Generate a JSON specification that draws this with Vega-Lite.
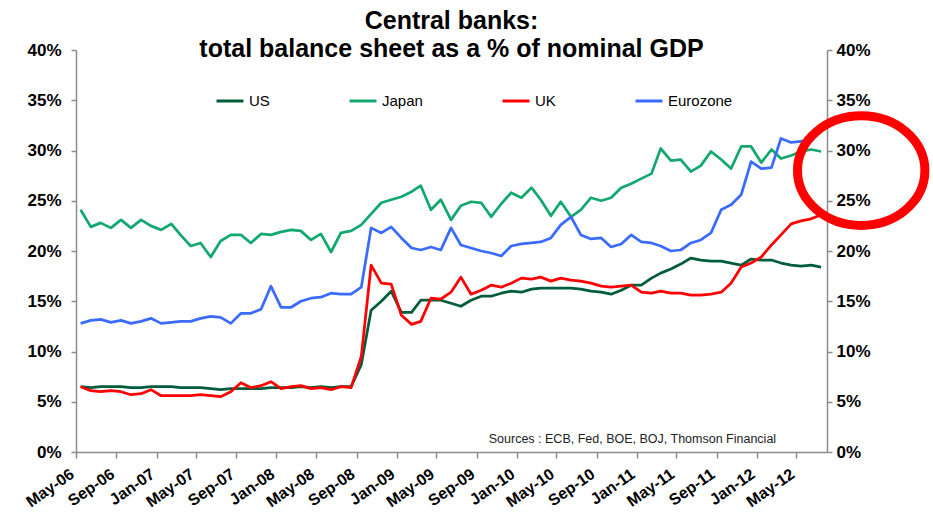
{
  "$schema": "https://vega.github.io/schema/vega-lite/v6.json",
  "width": 751,
  "height": 402,
  "autosize": {"type": "none"},
  "padding": {"left": 76, "top": 50, "right": 106, "bottom": 74},
  "background": "white",
  "config": {"view": {"stroke": null}, "font": "Liberation Sans"},
  "title": {
    "text": ["Central banks:", "total balance sheet as a % of nominal GDP"],
    "fontSize": 25,
    "fontWeight": "bold",
    "font": "Liberation Sans",
    "color": "black",
    "anchor": "middle",
    "lineHeight": 28,
    "offset": -21
  },
  "datasets": {
    "banks": [
      {"d":"2006-05-15","c":"US","v":6.5},{"d":"2006-06-15","c":"US","v":6.4},{"d":"2006-07-15","c":"US","v":6.5},{"d":"2006-08-15","c":"US","v":6.5},{"d":"2006-09-15","c":"US","v":6.5},{"d":"2006-10-15","c":"US","v":6.4},{"d":"2006-11-15","c":"US","v":6.4},{"d":"2006-12-15","c":"US","v":6.5},
      {"d":"2007-01-15","c":"US","v":6.5},{"d":"2007-02-15","c":"US","v":6.5},{"d":"2007-03-15","c":"US","v":6.4},{"d":"2007-04-15","c":"US","v":6.4},{"d":"2007-05-15","c":"US","v":6.4},{"d":"2007-06-15","c":"US","v":6.3},{"d":"2007-07-15","c":"US","v":6.2},{"d":"2007-08-15","c":"US","v":6.3},{"d":"2007-09-15","c":"US","v":6.3},{"d":"2007-10-15","c":"US","v":6.3},{"d":"2007-11-15","c":"US","v":6.3},{"d":"2007-12-15","c":"US","v":6.4},
      {"d":"2008-01-15","c":"US","v":6.4},{"d":"2008-02-15","c":"US","v":6.4},{"d":"2008-03-15","c":"US","v":6.5},{"d":"2008-04-15","c":"US","v":6.4},{"d":"2008-05-15","c":"US","v":6.5},{"d":"2008-06-15","c":"US","v":6.4},{"d":"2008-07-15","c":"US","v":6.5},{"d":"2008-08-15","c":"US","v":6.5},{"d":"2008-09-15","c":"US","v":8.7},{"d":"2008-10-15","c":"US","v":14.1},{"d":"2008-11-15","c":"US","v":15.0},{"d":"2008-12-15","c":"US","v":16.0},
      {"d":"2009-01-15","c":"US","v":13.9},{"d":"2009-02-15","c":"US","v":13.9},{"d":"2009-03-15","c":"US","v":15.1},{"d":"2009-04-15","c":"US","v":15.1},{"d":"2009-05-15","c":"US","v":15.1},{"d":"2009-06-15","c":"US","v":14.8},{"d":"2009-07-15","c":"US","v":14.5},{"d":"2009-08-15","c":"US","v":15.1},{"d":"2009-09-15","c":"US","v":15.5},{"d":"2009-10-15","c":"US","v":15.5},{"d":"2009-11-15","c":"US","v":15.8},{"d":"2009-12-15","c":"US","v":16.0},
      {"d":"2010-01-15","c":"US","v":15.9},{"d":"2010-02-15","c":"US","v":16.2},{"d":"2010-03-15","c":"US","v":16.3},{"d":"2010-04-15","c":"US","v":16.3},{"d":"2010-05-15","c":"US","v":16.3},{"d":"2010-06-15","c":"US","v":16.3},{"d":"2010-07-15","c":"US","v":16.2},{"d":"2010-08-15","c":"US","v":16.0},{"d":"2010-09-15","c":"US","v":15.9},{"d":"2010-10-15","c":"US","v":15.7},{"d":"2010-11-15","c":"US","v":16.1},{"d":"2010-12-15","c":"US","v":16.6},
      {"d":"2011-01-15","c":"US","v":16.6},{"d":"2011-02-15","c":"US","v":17.3},{"d":"2011-03-15","c":"US","v":17.8},{"d":"2011-04-15","c":"US","v":18.2},{"d":"2011-05-15","c":"US","v":18.7},{"d":"2011-06-15","c":"US","v":19.3},{"d":"2011-07-15","c":"US","v":19.1},{"d":"2011-08-15","c":"US","v":19.0},{"d":"2011-09-15","c":"US","v":19.0},{"d":"2011-10-15","c":"US","v":18.8},{"d":"2011-11-15","c":"US","v":18.6},{"d":"2011-12-15","c":"US","v":19.2},
      {"d":"2012-01-15","c":"US","v":19.1},{"d":"2012-02-15","c":"US","v":19.1},{"d":"2012-03-15","c":"US","v":18.8},{"d":"2012-04-15","c":"US","v":18.6},{"d":"2012-05-15","c":"US","v":18.5},{"d":"2012-06-15","c":"US","v":18.6},{"d":"2012-07-15","c":"US","v":18.4},

      {"d":"2006-05-15","c":"Japan","v":24.1},{"d":"2006-06-15","c":"Japan","v":22.4},{"d":"2006-07-15","c":"Japan","v":22.8},{"d":"2006-08-15","c":"Japan","v":22.3},{"d":"2006-09-15","c":"Japan","v":23.1},{"d":"2006-10-15","c":"Japan","v":22.3},{"d":"2006-11-15","c":"Japan","v":23.1},{"d":"2006-12-15","c":"Japan","v":22.5},
      {"d":"2007-01-15","c":"Japan","v":22.1},{"d":"2007-02-15","c":"Japan","v":22.7},{"d":"2007-03-15","c":"Japan","v":21.6},{"d":"2007-04-15","c":"Japan","v":20.5},{"d":"2007-05-15","c":"Japan","v":20.8},{"d":"2007-06-15","c":"Japan","v":19.4},{"d":"2007-07-15","c":"Japan","v":21.0},{"d":"2007-08-15","c":"Japan","v":21.6},{"d":"2007-09-15","c":"Japan","v":21.6},{"d":"2007-10-15","c":"Japan","v":20.8},{"d":"2007-11-15","c":"Japan","v":21.7},{"d":"2007-12-15","c":"Japan","v":21.6},
      {"d":"2008-01-15","c":"Japan","v":21.9},{"d":"2008-02-15","c":"Japan","v":22.1},{"d":"2008-03-15","c":"Japan","v":22.0},{"d":"2008-04-15","c":"Japan","v":21.1},{"d":"2008-05-15","c":"Japan","v":21.7},{"d":"2008-06-15","c":"Japan","v":19.9},{"d":"2008-07-15","c":"Japan","v":21.8},{"d":"2008-08-15","c":"Japan","v":22.0},{"d":"2008-09-15","c":"Japan","v":22.6},{"d":"2008-10-15","c":"Japan","v":23.7},{"d":"2008-11-15","c":"Japan","v":24.8},{"d":"2008-12-15","c":"Japan","v":25.1},
      {"d":"2009-01-15","c":"Japan","v":25.4},{"d":"2009-02-15","c":"Japan","v":25.9},{"d":"2009-03-15","c":"Japan","v":26.5},{"d":"2009-04-15","c":"Japan","v":24.1},{"d":"2009-05-15","c":"Japan","v":25.1},{"d":"2009-06-15","c":"Japan","v":23.1},{"d":"2009-07-15","c":"Japan","v":24.5},{"d":"2009-08-15","c":"Japan","v":24.9},{"d":"2009-09-15","c":"Japan","v":24.8},{"d":"2009-10-15","c":"Japan","v":23.4},{"d":"2009-11-15","c":"Japan","v":24.7},{"d":"2009-12-15","c":"Japan","v":25.8},
      {"d":"2010-01-15","c":"Japan","v":25.3},{"d":"2010-02-15","c":"Japan","v":26.3},{"d":"2010-03-15","c":"Japan","v":25.1},{"d":"2010-04-15","c":"Japan","v":23.5},{"d":"2010-05-15","c":"Japan","v":24.9},{"d":"2010-06-15","c":"Japan","v":23.4},{"d":"2010-07-15","c":"Japan","v":24.1},{"d":"2010-08-15","c":"Japan","v":25.3},{"d":"2010-09-15","c":"Japan","v":25.0},{"d":"2010-10-15","c":"Japan","v":25.3},{"d":"2010-11-15","c":"Japan","v":26.3},{"d":"2010-12-15","c":"Japan","v":26.7},
      {"d":"2011-01-15","c":"Japan","v":27.2},{"d":"2011-02-15","c":"Japan","v":27.7},{"d":"2011-03-15","c":"Japan","v":30.2},{"d":"2011-04-15","c":"Japan","v":29.0},{"d":"2011-05-15","c":"Japan","v":29.1},{"d":"2011-06-15","c":"Japan","v":27.9},{"d":"2011-07-15","c":"Japan","v":28.5},{"d":"2011-08-15","c":"Japan","v":29.9},{"d":"2011-09-15","c":"Japan","v":29.1},{"d":"2011-10-15","c":"Japan","v":28.2},{"d":"2011-11-15","c":"Japan","v":30.4},{"d":"2011-12-15","c":"Japan","v":30.4},
      {"d":"2012-01-15","c":"Japan","v":28.8},{"d":"2012-02-15","c":"Japan","v":30.1},{"d":"2012-03-15","c":"Japan","v":29.2},{"d":"2012-04-15","c":"Japan","v":29.5},{"d":"2012-05-15","c":"Japan","v":29.9},{"d":"2012-06-15","c":"Japan","v":30.1},{"d":"2012-07-15","c":"Japan","v":29.9},

      {"d":"2006-05-15","c":"UK","v":6.5},{"d":"2006-06-15","c":"UK","v":6.1},{"d":"2006-07-15","c":"UK","v":6.0},{"d":"2006-08-15","c":"UK","v":6.1},{"d":"2006-09-15","c":"UK","v":6.0},{"d":"2006-10-15","c":"UK","v":5.7},{"d":"2006-11-15","c":"UK","v":5.8},{"d":"2006-12-15","c":"UK","v":6.2},
      {"d":"2007-01-15","c":"UK","v":5.6},{"d":"2007-02-15","c":"UK","v":5.6},{"d":"2007-03-15","c":"UK","v":5.6},{"d":"2007-04-15","c":"UK","v":5.6},{"d":"2007-05-15","c":"UK","v":5.7},{"d":"2007-06-15","c":"UK","v":5.6},{"d":"2007-07-15","c":"UK","v":5.5},{"d":"2007-08-15","c":"UK","v":6.0},{"d":"2007-09-15","c":"UK","v":6.9},{"d":"2007-10-15","c":"UK","v":6.4},{"d":"2007-11-15","c":"UK","v":6.6},{"d":"2007-12-15","c":"UK","v":7.0},
      {"d":"2008-01-15","c":"UK","v":6.3},{"d":"2008-02-15","c":"UK","v":6.5},{"d":"2008-03-15","c":"UK","v":6.6},{"d":"2008-04-15","c":"UK","v":6.3},{"d":"2008-05-15","c":"UK","v":6.4},{"d":"2008-06-15","c":"UK","v":6.2},{"d":"2008-07-15","c":"UK","v":6.5},{"d":"2008-08-15","c":"UK","v":6.4},{"d":"2008-09-15","c":"UK","v":9.5},{"d":"2008-10-15","c":"UK","v":18.6},{"d":"2008-11-15","c":"UK","v":16.8},{"d":"2008-12-15","c":"UK","v":16.7},
      {"d":"2009-01-15","c":"UK","v":13.6},{"d":"2009-02-15","c":"UK","v":12.7},{"d":"2009-03-15","c":"UK","v":13.0},{"d":"2009-04-15","c":"UK","v":15.3},{"d":"2009-05-15","c":"UK","v":15.2},{"d":"2009-06-15","c":"UK","v":15.9},{"d":"2009-07-15","c":"UK","v":17.4},{"d":"2009-08-15","c":"UK","v":15.7},{"d":"2009-09-15","c":"UK","v":16.1},{"d":"2009-10-15","c":"UK","v":16.6},{"d":"2009-11-15","c":"UK","v":16.4},{"d":"2009-12-15","c":"UK","v":16.8},
      {"d":"2010-01-15","c":"UK","v":17.3},{"d":"2010-02-15","c":"UK","v":17.2},{"d":"2010-03-15","c":"UK","v":17.4},{"d":"2010-04-15","c":"UK","v":17.0},{"d":"2010-05-15","c":"UK","v":17.3},{"d":"2010-06-15","c":"UK","v":17.1},{"d":"2010-07-15","c":"UK","v":17.0},{"d":"2010-08-15","c":"UK","v":16.8},{"d":"2010-09-15","c":"UK","v":16.5},{"d":"2010-10-15","c":"UK","v":16.4},{"d":"2010-11-15","c":"UK","v":16.5},{"d":"2010-12-15","c":"UK","v":16.6},
      {"d":"2011-01-15","c":"UK","v":15.9},{"d":"2011-02-15","c":"UK","v":15.8},{"d":"2011-03-15","c":"UK","v":16.0},{"d":"2011-04-15","c":"UK","v":15.8},{"d":"2011-05-15","c":"UK","v":15.8},{"d":"2011-06-15","c":"UK","v":15.6},{"d":"2011-07-15","c":"UK","v":15.6},{"d":"2011-08-15","c":"UK","v":15.7},{"d":"2011-09-15","c":"UK","v":15.9},{"d":"2011-10-15","c":"UK","v":16.8},{"d":"2011-11-15","c":"UK","v":18.4},{"d":"2011-12-15","c":"UK","v":18.8},
      {"d":"2012-01-15","c":"UK","v":19.4},{"d":"2012-02-15","c":"UK","v":20.6},{"d":"2012-03-15","c":"UK","v":21.6},{"d":"2012-04-15","c":"UK","v":22.7},{"d":"2012-05-15","c":"UK","v":23.0},{"d":"2012-06-15","c":"UK","v":23.2},{"d":"2012-07-15","c":"UK","v":23.6},

      {"d":"2006-05-15","c":"Eurozone","v":12.8},{"d":"2006-06-15","c":"Eurozone","v":13.1},{"d":"2006-07-15","c":"Eurozone","v":13.2},{"d":"2006-08-15","c":"Eurozone","v":12.9},{"d":"2006-09-15","c":"Eurozone","v":13.1},{"d":"2006-10-15","c":"Eurozone","v":12.8},{"d":"2006-11-15","c":"Eurozone","v":13.0},{"d":"2006-12-15","c":"Eurozone","v":13.3},
      {"d":"2007-01-15","c":"Eurozone","v":12.8},{"d":"2007-02-15","c":"Eurozone","v":12.9},{"d":"2007-03-15","c":"Eurozone","v":13.0},{"d":"2007-04-15","c":"Eurozone","v":13.0},{"d":"2007-05-15","c":"Eurozone","v":13.3},{"d":"2007-06-15","c":"Eurozone","v":13.5},{"d":"2007-07-15","c":"Eurozone","v":13.4},{"d":"2007-08-15","c":"Eurozone","v":12.8},{"d":"2007-09-15","c":"Eurozone","v":13.8},{"d":"2007-10-15","c":"Eurozone","v":13.8},{"d":"2007-11-15","c":"Eurozone","v":14.2},{"d":"2007-12-15","c":"Eurozone","v":16.5},
      {"d":"2008-01-15","c":"Eurozone","v":14.4},{"d":"2008-02-15","c":"Eurozone","v":14.4},{"d":"2008-03-15","c":"Eurozone","v":15.0},{"d":"2008-04-15","c":"Eurozone","v":15.3},{"d":"2008-05-15","c":"Eurozone","v":15.4},{"d":"2008-06-15","c":"Eurozone","v":15.8},{"d":"2008-07-15","c":"Eurozone","v":15.7},{"d":"2008-08-15","c":"Eurozone","v":15.7},{"d":"2008-09-15","c":"Eurozone","v":16.4},{"d":"2008-10-15","c":"Eurozone","v":22.3},{"d":"2008-11-15","c":"Eurozone","v":21.8},{"d":"2008-12-15","c":"Eurozone","v":22.4},
      {"d":"2009-01-15","c":"Eurozone","v":21.3},{"d":"2009-02-15","c":"Eurozone","v":20.3},{"d":"2009-03-15","c":"Eurozone","v":20.1},{"d":"2009-04-15","c":"Eurozone","v":20.4},{"d":"2009-05-15","c":"Eurozone","v":20.1},{"d":"2009-06-15","c":"Eurozone","v":22.3},{"d":"2009-07-15","c":"Eurozone","v":20.6},{"d":"2009-08-15","c":"Eurozone","v":20.3},{"d":"2009-09-15","c":"Eurozone","v":20.0},{"d":"2009-10-15","c":"Eurozone","v":19.8},{"d":"2009-11-15","c":"Eurozone","v":19.5},{"d":"2009-12-15","c":"Eurozone","v":20.5},
      {"d":"2010-01-15","c":"Eurozone","v":20.7},{"d":"2010-02-15","c":"Eurozone","v":20.8},{"d":"2010-03-15","c":"Eurozone","v":20.9},{"d":"2010-04-15","c":"Eurozone","v":21.3},{"d":"2010-05-15","c":"Eurozone","v":22.6},{"d":"2010-06-15","c":"Eurozone","v":23.4},{"d":"2010-07-15","c":"Eurozone","v":21.6},{"d":"2010-08-15","c":"Eurozone","v":21.2},{"d":"2010-09-15","c":"Eurozone","v":21.3},{"d":"2010-10-15","c":"Eurozone","v":20.4},{"d":"2010-11-15","c":"Eurozone","v":20.7},{"d":"2010-12-15","c":"Eurozone","v":21.6},
      {"d":"2011-01-15","c":"Eurozone","v":20.9},{"d":"2011-02-15","c":"Eurozone","v":20.8},{"d":"2011-03-15","c":"Eurozone","v":20.5},{"d":"2011-04-15","c":"Eurozone","v":20.0},{"d":"2011-05-15","c":"Eurozone","v":20.1},{"d":"2011-06-15","c":"Eurozone","v":20.8},{"d":"2011-07-15","c":"Eurozone","v":21.1},{"d":"2011-08-15","c":"Eurozone","v":21.8},{"d":"2011-09-15","c":"Eurozone","v":24.1},{"d":"2011-10-15","c":"Eurozone","v":24.6},{"d":"2011-11-15","c":"Eurozone","v":25.6},{"d":"2011-12-15","c":"Eurozone","v":28.9},
      {"d":"2012-01-15","c":"Eurozone","v":28.2},{"d":"2012-02-15","c":"Eurozone","v":28.3},{"d":"2012-03-15","c":"Eurozone","v":31.2},{"d":"2012-04-15","c":"Eurozone","v":30.8},{"d":"2012-05-15","c":"Eurozone","v":30.9},{"d":"2012-06-15","c":"Eurozone","v":31.3},{"d":"2012-07-15","c":"Eurozone","v":32.1}
    ]
  },
  "layer": [
    {
      "data": {"name": "banks"},
      "mark": {"type": "line", "strokeWidth": 2.75, "strokeJoin": "round"},
      "encoding": {
        "x": {
          "field": "d",
          "type": "temporal",
          "scale": {"type": "utc", "domain": [{"year": 2006, "month": 5, "date": 1, "utc": true}, {"year": 2012, "month": 8, "date": 2, "utc": true}]},
          "axis": {
            "title": null,
            "format": "%b-%y",
            "tickCount": {"interval": "month", "step": 4},
            "grid": false,
            "labelAngle": -35,
            "labelAlign": "right",
            "labelBaseline": "middle",
            "labelFontSize": 16,
            "labelFontWeight": "bold",
            "labelColor": "black",
            "labelFont": "Liberation Sans",
            "labelOffset": -4,
            "labelPadding": 14,
            "labelOverlap": false,
            "labelFlush": false,
            "domainColor": "#8c8c8c",
            "domainWidth": 1.5,
            "tickColor": "#8c8c8c",
            "tickWidth": 1.5,
            "tickSize": 6
          }
        },
        "y": {
          "field": "v",
          "type": "quantitative",
          "scale": {"domain": [0, 40], "nice": false, "zero": true},
          "axis": {
            "title": null,
            "values": [0, 5, 10, 15, 20, 25, 30, 35, 40],
            "labelExpr": "datum.value + '%'",
            "grid": false,
            "labelFontSize": 17,
            "labelFontWeight": "bold",
            "labelColor": "black",
            "labelFont": "Liberation Sans",
            "labelPadding": 10,
            "labelFlush": false,
            "domainColor": "#8c8c8c",
            "domainWidth": 1.5,
            "tickColor": "#8c8c8c",
            "tickWidth": 1.5,
            "tickSize": 5
          }
        },
        "color": {
          "field": "c",
          "type": "nominal",
          "sort": ["US", "Japan", "UK", "Eurozone"],
          "scale": {"domain": ["US", "Japan", "UK", "Eurozone"], "range": ["#005C3A", "#12A86E", "#FF0000", "#3A6BFF"]},
          "legend": {
            "title": null,
            "orient": "none",
            "legendX": 139,
            "legendY": 36,
            "direction": "horizontal",
            "columns": 4,
            "symbolType": "stroke",
            "symbolSize": 729,
            "symbolStrokeWidth": 3,
            "labelFontSize": 15,
            "labelFont": "Liberation Sans",
            "labelColor": "black",
            "labelOffset": 4,
            "columnPadding": 73,
            "padding": 0
          }
        }
      }
    },
    {
      "data": {"values": [{}]},
      "mark": {"type": "text", "fontSize": 12.5, "font": "Liberation Sans", "color": "#222222", "align": "center", "baseline": "middle", "text": "Sources : ECB, Fed, BOE, BOJ, Thomson Financial"},
      "encoding": {
        "x": {"datum": {"year": 2010, "month": 12, "date": 19, "utc": true}, "type": "temporal"},
        "y": {"datum": 1.3, "type": "quantitative", "axis": null}
      }
    },
    {
      "data": {"values": [{}]},
      "mark": {"type": "point", "shape": "M-1,0A1,0.86,0,1,0,1,0A1,0.86,0,1,0,-1,0Z", "size": 16231, "filled": false, "stroke": "#FF0000", "strokeWidth": 9, "opacity": 1, "strokeOpacity": 1},
      "encoding": {
        "x": {"datum": {"year": 2012, "month": 11, "date": 14, "utc": true}, "type": "temporal"},
        "y": {
          "datum": 28.0,
          "type": "quantitative",
          "scale": {"domain": [0, 40], "nice": false, "zero": true},
          "axis": {
            "orient": "right",
            "title": null,
            "values": [0, 5, 10, 15, 20, 25, 30, 35, 40],
            "labelExpr": "datum.value + '%'",
            "grid": false,
            "labelFontSize": 17,
            "labelFontWeight": "bold",
            "labelColor": "black",
            "labelFont": "Liberation Sans",
            "labelPadding": 4,
            "labelFlush": false,
            "domainColor": "#8c8c8c",
            "domainWidth": 1.5,
            "tickColor": "#8c8c8c",
            "tickWidth": 1.5,
            "tickSize": 5
          }
        }
      }
    }
  ],
  "resolve": {"axis": {"y": "independent"}}
}
